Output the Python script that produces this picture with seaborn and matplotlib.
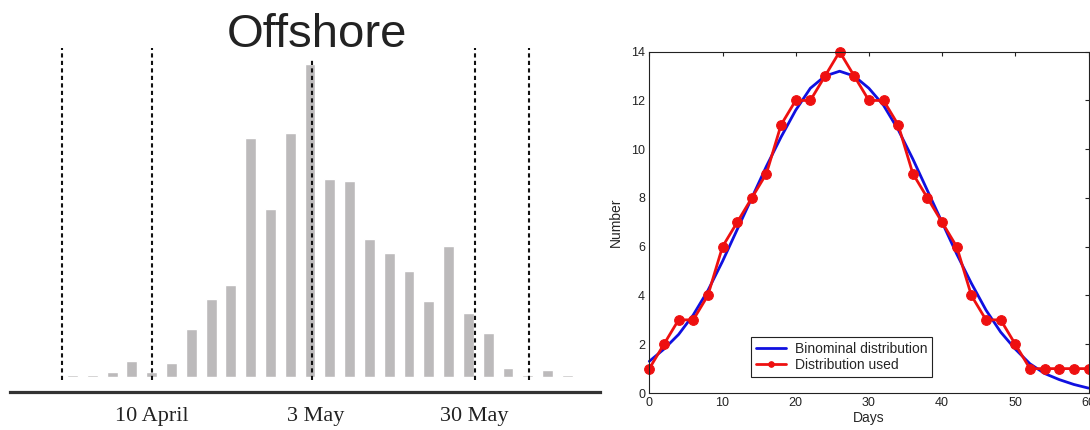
import numpy as np
import pandas as pd
import matplotlib
matplotlib.use("Agg")
import matplotlib.pyplot as plt
import seaborn as sns

# left panel: offshore catches per time bin (relative counts)
bins = list(range(26))
counts = [0.2, 0.2, 0.5, 1.6, 0.5, 1.4, 4.8, 7.8, 9.2, 23.9, 16.8, 24.4, 31.3,
          19.8, 19.6, 13.8, 12.4, 10.6, 7.6, 13.1, 6.4, 4.4, 0.9, 0.2, 0.7, 0.2]
date_pos = [4.0, 12.3, 20.3]
date_labels = ["10 April", "3 May", "30 May"]
marker_lines = [-0.53, 4.0, 12.1, 20.33, 23.06]

# right panel: arrival distribution
days = [0, 2, 4, 6, 8, 10, 12, 14, 16, 18, 20, 22, 24, 26, 28, 30,
        32, 34, 36, 38, 40, 42, 44, 46, 48, 50, 52, 54, 56, 58, 60]
used = [1, 2, 3, 3, 4, 6, 7, 8, 9, 11, 12, 12, 13, 14, 13, 12,
        12, 11, 9, 8, 7, 6, 4, 3, 3, 2, 1, 1, 1, 1, 1]
binomial = [1.3, 1.8, 2.4, 3.2, 4.2, 5.4, 6.7, 8.0, 9.3, 10.5, 11.6, 12.5, 13.0, 13.2, 13.0, 12.5,
            11.8, 10.8, 9.6, 8.3, 7.0, 5.7, 4.5, 3.4, 2.5, 1.8, 1.2, 0.8, 0.55, 0.35, 0.2]

sns.set_style("white")
plt.rcParams['font.family'] = ['Liberation Sans', 'DejaVu Sans']

W, H = 1090, 430
fig = plt.figure(figsize=(W / 100, H / 100), dpi=100)

# ---- left panel
ax1 = fig.add_axes([10.4 / W, 1 - 392 / H, 590 / W, 352 / H])
df = pd.DataFrame({'bin': bins, 'count': counts})
sns.barplot(data=df, x='bin', y='count', color='#bcbabb', saturation=1,
            width=0.55, ax=ax1)
ax1.set_xlim(-3.14, 26.67)
ax1.set_ylim(-1.53, 33.7)
for i, x in enumerate(marker_lines):
    top = 31.7 if i == 2 else 32.9
    ax1.vlines(x, -0.33, top, colors='#111111', linewidth=1.5,
               linestyles=(0, (2, 1.6)))
for s in ['top', 'left', 'right']:
    ax1.spines[s].set_visible(False)
ax1.spines['bottom'].set_color('#333333')
ax1.spines['bottom'].set_linewidth(2.3)
ax1.set_yticks([])
ax1.set_xticks(date_pos)
ax1.set_xticklabels(date_labels, family='Liberation Serif', fontsize=16,
                    color='#222222')
ax1.tick_params(axis='x', length=0, pad=11)
ax1.set_xlabel('')
ax1.set_ylabel('')
fig.text(316.6 / W, 1 - 35 / H, 'Offshore', ha='center', va='center',
         fontsize=34, color='#222222')

# ---- right panel
ax2 = fig.add_axes([649.3 / W, 37 / H, 439.2 / W, 341.3 / H])
sns.lineplot(x=days, y=binomial, color='#1010e0', linewidth=2,
             label='Binominal distribution', ax=ax2, clip_on=False)
sns.lineplot(x=days, y=used, color='#ee1010', linewidth=2, marker='o',
             markersize=7, markeredgecolor='#ee1010',
             label='Distribution used', ax=ax2, clip_on=False)
ax2.set_xlim(0, 60)
ax2.set_ylim(0, 14)
ax2.set_xticks(range(0, 61, 10))
ax2.set_yticks(range(0, 15, 2))
ax2.tick_params(direction='in', top=True, right=True, length=3,
                labelsize=9, colors='#222222', pad=3)
for s in ax2.spines.values():
    s.set_color('#222222')
    s.set_linewidth(0.8)
ax2.set_xlabel('Days', fontsize=10, labelpad=1)
ax2.set_ylabel('Number', fontsize=10, labelpad=6)
leg = ax2.legend(loc='lower left', bbox_to_anchor=(0.231, 0.047),
                 borderaxespad=0, fontsize=10, labelspacing=0.15,
                 handlelength=2.2, handletextpad=0.6, borderpad=0.35,
                 fancybox=False, framealpha=1)
leg.get_frame().set_edgecolor('#222222')
leg.get_frame().set_linewidth(0.8)
for line in leg.get_lines():
    line.set_markersize(4)

fig.savefig('out.png', dpi=100)
